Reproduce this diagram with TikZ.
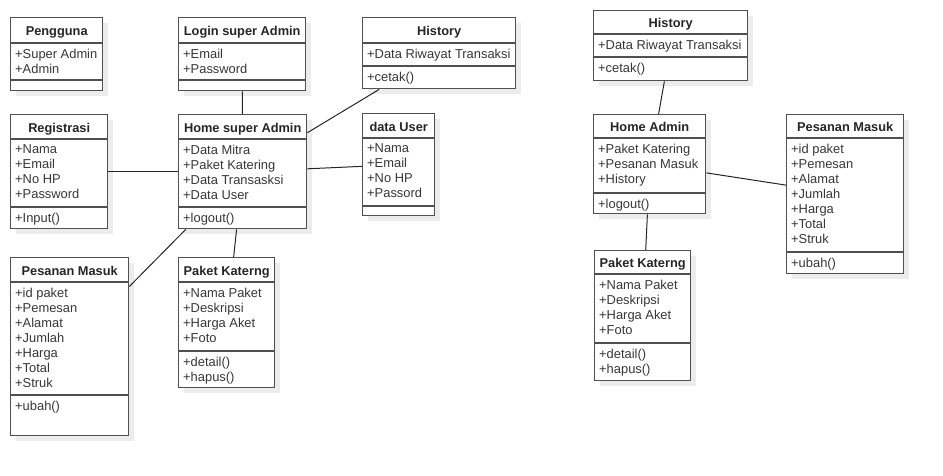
\documentclass[tikz,border=0pt]{standalone}
\usepackage{fontspec}
\setmainfont{Liberation Sans}
\usepackage{tikz}
\definecolor{boxline}{RGB}{80,80,80}
\definecolor{boxshadow}{RGB}{236,236,236}
\definecolor{membertext}{RGB}{55,55,55}
\tikzset{
	cls/.style     = {draw=boxline, line width=1.4pt, fill=white, rectangle,
		inner sep=0pt, anchor=north west},
	sep/.style     = {draw=boxline, line width=1.4pt},
	shade/.style   = {fill=boxshadow},
	title/.style   = {anchor=base, inner sep=0pt,
		font=\fontsize{12.8}{15}\selectfont\bfseries, text=black!85},
	members/.style = {anchor=north west, align=left, inner xsep=5pt, inner ysep=5.5pt,
		font=\fontsize{12.9}{15}\selectfont, text=membertext},
	link/.style    = {draw=black!85, line width=1pt}
}
% name, top left, width, height, header height, end of attributes, title, attributes, methods
\newcommand{\umlclass}[9]{%
	\fill[shade, shift={(#2)}] (6,6) rectangle ++(#3,#4);
	\node[cls, minimum width=#3, minimum height=#4] (#1) at (#2) {};
	\draw[sep] ([yshift=-#5]#1.north west) -- ([yshift=-#5]#1.north east);
	\draw[sep] ([yshift=-#6]#1.north west) -- ([yshift=-#6]#1.north east);
	\node[title] (#1-t) at ([yshift=-#5/2-5.5]#1.north) {#7};
	\node[members] (#1-a) at ([yshift=-#5]#1.north west) {#8};
	\node[members] (#1-m) at ([yshift=-#6]#1.north west) {#9};
}

\begin{document}
\begin{tikzpicture}[x=1pt, y=-1pt]
	\useasboundingbox (0,0) rectangle (943,475);

	% super admin
	\umlclass{pengguna}{10,17}{92}{73}{26}{63}{Pengguna}{+Super Admin\\+Admin}{}
	\umlclass{login}{178,17}{127}{73}{26}{63}{Login super Admin}{+Email\\+Password}{}
	\umlclass{historyL}{362,17}{153}{71}{26}{49}{History}{+Data Riwayat Transaksi}{+cetak()}
	\umlclass{registrasi}{10,114}{97}{114}{25}{93}{Registrasi}{+Nama\\+Email\\+No HP\\+Password}{+Input()}
	\umlclass{homeSA}{178,114}{128}{114}{25}{93}{Home super Admin}{+Data Mitra\\+Paket Katering\\+Data Transasksi\\+Data User}{+logout()}
	\umlclass{dataUser}{362,113}{72}{102}{25}{93}{data User}{+Nama\\+Email\\+No HP\\+Passord}{}
	\umlclass{pesananL}{10,257}{118}{178}{25}{138}{Pesanan Masuk}{+id paket\\+Pemesan\\+Alamat\\+Jumlah\\+Harga\\+Total\\+Struk}{+ubah()}
	\umlclass{paketL}{178,257}{96}{130}{25}{94}{Paket Katerng}{+Nama Paket\\+Deskripsi\\+Harga Aket\\+Foto}{+detail()\\+hapus()}

	% admin
	\umlclass{historyR}{593,10}{154}{70}{24}{47}{History}{+Data Riwayat Transaksi}{+cetak()}
	\umlclass{homeA}{593,114}{112}{99}{24}{79}{Home Admin}{+Paket Katering\\+Pesanan Masuk\\+History}{+logout()}
	\umlclass{pesananR}{786,114}{117}{159}{24}{138}{Pesanan Masuk}{+id paket\\+Pemesan\\+Alamat\\+Jumlah\\+Harga\\+Total\\+Struk}{+ubah()}
	\umlclass{paketR}{594,250}{96}{130}{24}{93}{Paket Katerng}{+Nama Paket\\+Deskripsi\\+Harga Aket\\+Foto}{+detail()\\+hapus()}

	\draw[link] (login) -- (homeSA);
	\draw[link] (registrasi) -- (homeSA);
	\draw[link] (homeSA) -- (historyL);
	\draw[link] (homeSA) -- (dataUser);
	\draw[link] (homeSA) -- (pesananL);
	\draw[link] (homeSA) -- (paketL);
	\draw[link] (historyR) -- (homeA);
	\draw[link] (homeA) -- (pesananR);
	\draw[link] (homeA) -- (paketR);
\end{tikzpicture}
\end{document}
